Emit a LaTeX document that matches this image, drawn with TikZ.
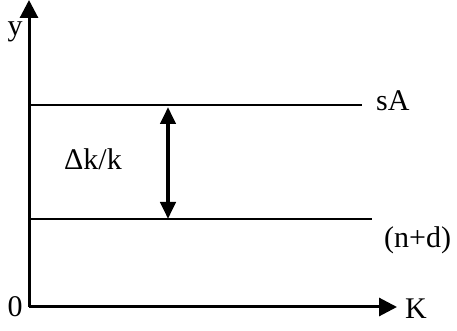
\documentclass[tikz,border=0pt]{standalone}
\usepackage{fontspec}
\setmainfont{Liberation Serif}
\usetikzlibrary{arrows.meta}
\begin{document}
\begin{tikzpicture}[x=1pt,y=1pt,
  axis/.style={line width=3pt,-{Triangle[width=18pt,length=18pt]}},
  level/.style={line width=2.5pt},
  gap/.style={line width=4pt,{Triangle[width=15pt,length=17pt]}-{Triangle[width=15pt,length=17pt]}},
  lbl/.style={inner sep=0pt,font=\fontsize{30}{34}\selectfont}]
\useasboundingbox (0,0) rectangle (457,331);
\coordinate (O) at (29,24);
\coordinate (ytip) at (29,331);
\coordinate (xtip) at (397,24);
\coordinate (sAs) at (29,226);
\coordinate (sAe) at (362,226);
\coordinate (nds) at (29,112);
\coordinate (nde) at (372,112);
\coordinate (gt) at (168,224);
\coordinate (gb) at (168,112);
\draw[axis] (O) -- (ytip);
\draw[axis] (O) -- (xtip);
\draw[level] (sAs) -- (sAe);
\draw[level] (nds) -- (nde);
\draw[gap] (gt) -- (gb);
\node[lbl] (ylab) at (15,299) {y};
\node[lbl] (zero) at (15,24) {0};
\node[lbl,anchor=west] (klab) at (405,22) {K};
\node[lbl,anchor=west] (salab) at (376,230) {sA};
\node[lbl,anchor=west] (ndlab) at (384,91) {(n+d)};
\node[lbl] (dk) at (93,172) {Δk/k};
\end{tikzpicture}
\end{document}
